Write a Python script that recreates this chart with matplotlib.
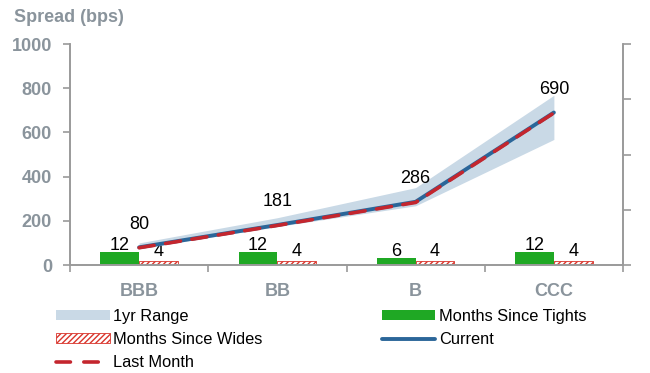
import numpy as np
import matplotlib
matplotlib.use('Agg')
import matplotlib.pyplot as plt
from matplotlib.patches import Patch
from matplotlib.lines import Line2D

plt.rcParams['font.family'] = ['Liberation Sans', 'DejaVu Sans']

# spreads by rating bucket
categories = ['BBB', 'BB', 'B', 'CCC']
current = [80, 181, 286, 690]
last_month = [78, 179, 283, 688]
range_low = [74, 174, 268, 568]
range_high = [100, 214, 350, 768]
months_tights = [12, 12, 6, 12]
months_wides = [4, 4, 4, 4]

gris = '#8a949c'
eje = '#9a9a9a'
verde = '#1fa824'
rojo = '#c4262e'
azul = '#2b6699'
banda = '#c9d9e6'

fig = plt.figure(figsize=(6.5, 3.73), dpi=100)
ax = fig.add_axes([70/650, 1-265/373, 553/650, 221/373])
ax2 = ax.twinx()

x = np.arange(len(categories)) + 0.5
w = 0.28

# barras de meses en el eje secundario
ax2.bar(x - w/2, months_tights, width=w, color=verde, edgecolor='none')
ax2.bar(x + w/2, months_wides, width=w, color='white', edgecolor='#d9342b',
        hatch='//////', linewidth=0.6)
for xi, v in zip(x - w/2, months_tights):
    ax2.annotate(str(v), (xi, v), xytext=(0, 2), textcoords='offset pixels',
                 ha='center', va='baseline', fontsize=13, color='black')
for xi, v in zip(x + w/2, months_wides):
    ax2.annotate(str(v), (xi, v), xytext=(0, 5), textcoords='offset pixels',
                 ha='center', va='baseline', fontsize=13, color='black')
ax2.set_ylim(0, 200)
ax2.set_yticks([0, 50, 100, 150, 200])
ax2.set_yticklabels([])
ax2.tick_params(axis='y', direction='out', length=6, width=1.2, color=eje)

# rango de 1 año y lineas
ax.set_zorder(ax2.get_zorder() + 1)
ax.patch.set_visible(False)
ax.fill_between(x, range_low, range_high, color=banda, linewidth=0)
ax.plot(x, current, color=azul, linewidth=2.8, solid_capstyle='round')
ax.plot(x, last_month, color=rojo, linewidth=2.6, dashes=(4.2, 3.2),
        dash_capstyle='round')
for xi, v in zip(x, current):
    ax.annotate(str(v), (xi, v), xytext=(0, 23), textcoords='offset pixels',
                ha='center', va='center', fontsize=13, color='black')

ax.set_xlim(0, 4)
ax.set_ylim(0, 1000)
ax.set_yticks(range(0, 1001, 200))
ax.set_xticks(x)
ax.set_xticklabels(categories)
ax.set_xticks(np.arange(5), minor=True)
ax.tick_params(axis='x', which='major', length=0, pad=13, labelsize=13,
               labelcolor=gris)
ax.tick_params(axis='x', which='minor', direction='out', length=5, width=1.2,
               color=eje)
ax.tick_params(axis='y', direction='out', length=5, width=1.2, color=eje,
               pad=8, labelsize=13, labelcolor=gris)
for lab in ax.get_xticklabels() + ax.get_yticklabels():
    lab.set_fontweight('bold')

for a in (ax, ax2):
    a.spines['top'].set_visible(False)
    for s in ('left', 'right', 'bottom'):
        a.spines[s].set_color(eje)
        a.spines[s].set_linewidth(1.2)

fig.text(14/650, 1-17/373, 'Spread (bps)', fontsize=13, fontweight='bold',
         color=gris, ha='left', va='center')

handles = [
    Patch(facecolor=banda, edgecolor='none'),
    Patch(facecolor='white', edgecolor='#d9342b', hatch='//////', linewidth=0.6),
    Line2D([], [], color=rojo, linewidth=2.6, dashes=(4.0, 3.7),
           dash_capstyle='round'),
    Patch(facecolor=verde, edgecolor='none'),
    Line2D([], [], color=azul, linewidth=2.8, solid_capstyle='round'),
]
labels = ['1yr Range', 'Months Since Wides', 'Last Month',
          'Months Since Tights', 'Current']
fig.legend(handles, labels, loc='upper left', bbox_to_anchor=(56/650, 1-309/373),
           ncol=2, frameon=False, borderpad=0, borderaxespad=0,
           handlelength=3.3, handleheight=0.55, handletextpad=0.2,
           labelspacing=0.5, columnspacing=7.3, fontsize=11.75)

fig.savefig('out.png', dpi=100)
